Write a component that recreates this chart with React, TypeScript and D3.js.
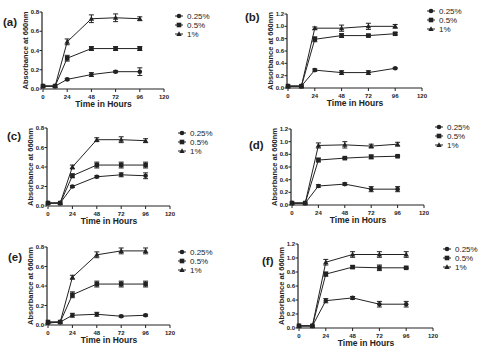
import * as d3 from "d3";

const hours = [0, 12, 24, 48, 72, 96];
const series = ["0.25%", "0.5%", "1%"];
const xTicks = [0, 24, 48, 72, 96, 120];
const yTicksLow = [0, 0.2, 0.4, 0.6, 0.8];
const yTicksHigh = [0, 0.2, 0.4, 0.6, 0.8, 1.0, 1.2];

// values per panel: rows = 0.25%, 0.5%, 1%
const valuesA = [
  [0.03, 0.03, 0.1, 0.15, 0.18, 0.18],
  [0.03, 0.03, 0.32, 0.42, 0.42, 0.42],
  [0.03, 0.03, 0.49, 0.73, 0.74, 0.73],
];
const errorsA = [
  [0, 0, 0.01, 0.02, 0.01, 0.04],
  [0, 0, 0.03, 0.02, 0.02, 0.02],
  [0, 0, 0.03, 0.04, 0.04, 0.02],
];
const valuesB = [
  [0.03, 0.03, 0.29, 0.25, 0.25, 0.32],
  [0.03, 0.03, 0.79, 0.85, 0.85, 0.88],
  [0.03, 0.03, 0.97, 0.97, 1.0, 1.0],
];
const errorsB = [
  [0, 0, 0.02, 0.03, 0.03, 0.01],
  [0, 0, 0.04, 0.03, 0.02, 0.02],
  [0, 0, 0.02, 0.05, 0.05, 0.03],
];
const valuesC = [
  [0.03, 0.03, 0.2, 0.3, 0.32, 0.31],
  [0.03, 0.03, 0.31, 0.42, 0.42, 0.42],
  [0.03, 0.03, 0.4, 0.68, 0.68, 0.67],
];
const errorsC = [
  [0, 0, 0.01, 0.01, 0.02, 0.03],
  [0, 0, 0.02, 0.03, 0.03, 0.03],
  [0, 0, 0.02, 0.02, 0.03, 0.02],
];
const valuesD = [
  [0.03, 0.03, 0.3, 0.33, 0.25, 0.25],
  [0.03, 0.03, 0.71, 0.74, 0.76, 0.77],
  [0.03, 0.03, 0.94, 0.95, 0.93, 0.96],
];
const errorsD = [
  [0, 0, 0.02, 0.02, 0.04, 0.04],
  [0, 0, 0.03, 0.01, 0.03, 0.01],
  [0, 0, 0.04, 0.05, 0.03, 0.03],
];
const valuesE = [
  [0.02, 0.03, 0.1, 0.11, 0.09, 0.1],
  [0.03, 0.03, 0.31, 0.42, 0.42, 0.42],
  [0.03, 0.03, 0.49, 0.72, 0.76, 0.76],
];
const errorsE = [
  [0, 0, 0.02, 0.02, 0.01, 0.01],
  [0, 0, 0.03, 0.03, 0.03, 0.03],
  [0, 0, 0.02, 0.03, 0.03, 0.03],
];
const valuesF = [
  [0.03, 0.03, 0.39, 0.43, 0.34, 0.34],
  [0.03, 0.03, 0.77, 0.87, 0.86, 0.86],
  [0.03, 0.03, 0.94, 1.05, 1.05, 1.05],
];
const errorsF = [
  [0, 0, 0.03, 0.02, 0.04, 0.04],
  [0, 0, 0.03, 0.02, 0.04, 0.01],
  [0, 0, 0.04, 0.04, 0.04, 0.04],
];

// layout: plot box in page pixels, legend + label positions
const panels = [
  { label: "(a)", values: valuesA, errors: errorsA, yMax: 0.8, ticks: yTicksLow, x0: 43, x1: 164, y0: 89, y1: 12, lx: 3, ly: 26, legX: 179, legY: 16 },
  { label: "(b)", values: valuesB, errors: errorsB, yMax: 1.2, ticks: yTicksHigh, x0: 288, x1: 422, y0: 88, y1: 14, lx: 245, ly: 21, legX: 431, legY: 11 },
  { label: "(c)", values: valuesC, errors: errorsC, yMax: 0.8, ticks: yTicksLow, x0: 48, x1: 170, y0: 206, y1: 128, lx: 7, ly: 140, legX: 182, legY: 133 },
  { label: "(d)", values: valuesD, errors: errorsD, yMax: 1.2, ticks: yTicksHigh, x0: 292, x1: 424, y0: 205, y1: 129, lx: 249, ly: 149, legX: 439, legY: 127 },
  { label: "(e)", values: valuesE, errors: errorsE, yMax: 0.8, ticks: yTicksLow, x0: 48, x1: 170, y0: 325, y1: 247, lx: 8, ly: 261, legX: 182, legY: 252 },
  { label: "(f)", values: valuesF, errors: errorsF, yMax: 1.2, ticks: yTicksHigh, x0: 299, x1: 433, y0: 328, y1: 244, lx: 262, ly: 265, legX: 447, legY: 249 },
];

const ink = "#222";
const font = "'Liberation Sans', Arial, sans-serif";

function Marker({ kind, x, y }: { kind: number; x: number; y: number }) {
  if (kind === 0) return <circle cx={x} cy={y} r={2.3} fill={ink} />;
  if (kind === 1) return <rect x={x - 2.3} y={y - 2.3} width={4.6} height={4.6} fill={ink} />;
  return <path d={`M${x},${y - 2.8}L${x + 2.7},${y + 2}L${x - 2.7},${y + 2}Z`} fill={ink} />;
}

function Panel({ p }: { p: (typeof panels)[number] }) {
  const x = d3.scaleLinear().domain([0, 120]).range([p.x0, p.x1]);
  const y = d3.scaleLinear().domain([0, p.yMax]).range([p.y0, p.y1]);
  const line = d3
    .line<number>()
    .x((_, i) => x(hours[i]))
    .y((v) => y(v));
  const mid = (p.y0 + p.y1) / 2;
  return (
    <g fontFamily={font} fill={ink}>
      <text x={p.lx} y={p.ly} fontSize={11.5} fontWeight="bold">
        {p.label}
      </text>
      {/* axes */}
      <line x1={p.x0} x2={p.x1} y1={p.y0} y2={p.y0} stroke={ink} strokeWidth={1.2} />
      <line x1={p.x0 - 1} x2={p.x0 - 1} y1={p.y0} y2={p.y1} stroke={ink} strokeWidth={1.2} />
      {xTicks.map((t) => (
        <g key={t}>
          <line x1={x(t)} x2={x(t)} y1={p.y0} y2={p.y0 + 3} stroke={ink} strokeWidth={1} />
          <text x={x(t)} y={p.y0 + 10} fontSize={6} fontWeight="bold" textAnchor="middle">
            {t}
          </text>
        </g>
      ))}
      {p.ticks.map((t) => (
        <g key={t}>
          <line x1={p.x0 - 3.5} x2={p.x0 - 1} y1={y(t)} y2={y(t)} stroke={ink} strokeWidth={1} />
          <text x={p.x0 - 4} y={y(t) + 2.1} fontSize={6} fontWeight="bold" textAnchor="end">
            {d3.format(".1f")(t)}
          </text>
        </g>
      ))}
      <text x={(p.x0 + p.x1) / 2} y={p.y0 + 18} fontSize={8.5} fontWeight="bold" textAnchor="middle">
        Time in Hours
      </text>
      <text
        transform={`translate(${p.x0 - 15},${mid}) rotate(-90)`}
        fontSize={7.5}
        fontWeight="bold"
        textAnchor="middle"
      >
        Absorbance at 660nm
      </text>
      {/* series */}
      {p.values.map((vals, s) => (
        <g key={s}>
          <path d={line(vals) || ""} fill="none" stroke={ink} strokeWidth={1} />
          {vals.map((v, i) => {
            const e = p.errors[s][i];
            const cx = x(hours[i]);
            return (
              <g key={i}>
                {e > 0 && (
                  <g stroke={ink} strokeWidth={1}>
                    <line x1={cx} x2={cx} y1={y(v - e)} y2={y(v + e)} />
                    <line x1={cx - 2.5} x2={cx + 2.5} y1={y(v - e)} y2={y(v - e)} />
                    <line x1={cx - 2.5} x2={cx + 2.5} y1={y(v + e)} y2={y(v + e)} />
                  </g>
                )}
                <Marker kind={s} x={cx} y={y(v)} />
              </g>
            );
          })}
        </g>
      ))}
      {/* legend */}
      {series.map((name, s) => {
        const ly = p.legY + s * 9;
        return (
          <g key={name}>
            <line x1={p.legX - 4} x2={p.legX + 4} y1={ly} y2={ly} stroke={ink} strokeWidth={1} />
            <Marker kind={s} x={p.legX} y={ly} />
            <text x={p.legX + 8} y={ly + 3} fontSize={8}>
              {name}
            </text>
          </g>
        );
      })}
    </g>
  );
}

export default function App() {
  return (
    <svg
      width={480}
      height={353}
      style={{ position: "absolute", left: 0, top: 0, background: "#fff" }}
    >
      <rect width={480} height={353} fill="#fff" />
      {panels.map((p) => (
        <Panel key={p.label} p={p} />
      ))}
    </svg>
  );
}
